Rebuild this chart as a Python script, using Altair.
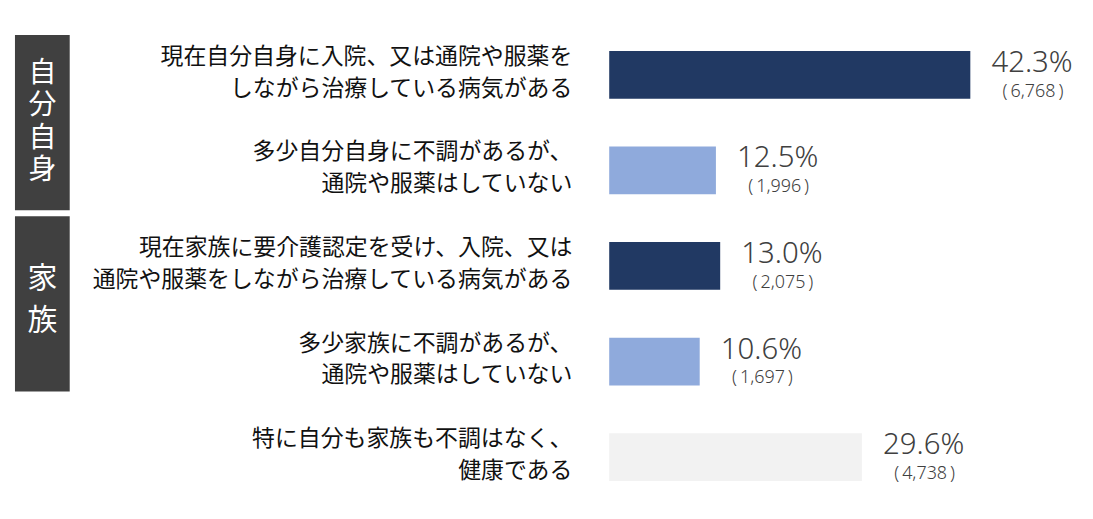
import altair as alt
import pandas as pd

categories = [
    "現在自分自身に入院、又は通院や服薬を\nしながら治療している病気がある",
    "多少自分自身に不調があるが、\n通院や服薬はしていない",
    "現在家族に要介護認定を受け、入院、又は\n通院や服薬をしながら治療している病気がある",
    "多少家族に不調があるが、\n通院や服薬はしていない",
    "特に自分も家族も不調はなく、\n健康である",
]
keys = ["c1", "c2", "c3", "c4", "c5"]
percents = [42.3, 12.5, 13.0, 10.6, 29.6]
counts = ["6,768", "1,996", "2,075", "1,697", "4,738"]
bar_colors = ["#213963", "#8faadc", "#213963", "#8faadc", "#f2f2f2"]
groups = ["自分自身", "家族"]

df = pd.DataFrame({
    "key": keys,
    "label": categories,
    "pct": percents,
    "pct_text": [f"{p:.1f}%" for p in percents],
    "cnt_text": [f"(\u2009{c}\u2009)" for c in counts],
})

JP = "Noto Sans CJK JP"

y_enc = alt.Y("key:N", sort=keys, axis=None,
              scale=alt.Scale(paddingInner=0.5, paddingOuter=0.25))
x_enc = alt.X("pct:Q", axis=None, scale=alt.Scale(domain=[0, 55.5]))

base = alt.Chart(df)

bars = base.mark_bar(cornerRadius=0).encode(
    x=x_enc,
    y=y_enc,
    color=alt.Color("key:N", scale=alt.Scale(domain=keys, range=bar_colors), legend=None),
)

pct_text = base.mark_text(align="center", baseline="middle", dx=62, dy=-12,
                          fontSize=29.5, font="Noto Sans", fontWeight=300,
                          color="#404040").encode(
    x=x_enc, y=y_enc, text="pct_text:N")

cnt_text = base.mark_text(align="center", baseline="middle", dx=63, dy=17,
                          fontSize=18, font="Noto Sans", fontWeight=300,
                          color="#404040").encode(
    x=x_enc, y=y_enc, text="cnt_text:N")

cat_text = base.mark_text(align="right", baseline="middle", lineBreak="\n",
                          lineHeight=32, fontSize=23, font=JP, dy=-18,
                          color="#111111").encode(
    x=alt.value(-37), y=y_enc, text="label:N")

box1 = alt.Chart(pd.DataFrame({"g": [groups[0]]})).mark_rect(color="#404040").encode(
    x=alt.value(-597), x2=alt.value(-542), y=alt.value(8), y2=alt.value(184))
box2 = alt.Chart(pd.DataFrame({"g": [groups[1]]})).mark_rect(color="#404040").encode(
    x=alt.value(-597), x2=alt.value(-542), y=alt.value(190), y2=alt.value(366))

g1 = alt.Chart(pd.DataFrame({"t": ["\n".join(groups[0])]})).mark_text(
    align="center", baseline="middle", lineBreak="\n", lineHeight=32.5,
    fontSize=28, font=JP, color="white").encode(
    x=alt.value(-569.5), y=alt.value(47), text="t:N")
g2 = alt.Chart(pd.DataFrame({"t": ["\n".join(groups[1])]})).mark_text(
    align="center", baseline="middle", lineBreak="\n", lineHeight=42,
    fontSize=30, font=JP, color="white").encode(
    x=alt.value(-569.5), y=alt.value(253), text="t:N")

chart = alt.layer(bars, pct_text, cnt_text, cat_text, box1, box2, g1, g2).properties(
    width=476, height=480,
    autosize=alt.AutoSizeParams(type="none"),
    padding={"left": 604, "top": 18, "right": 2, "bottom": 4},
    background="white",
).configure_view(strokeWidth=0, stroke="transparent")

chart.save("out.html", embed_options={"renderer": "svg", "actions": False})
